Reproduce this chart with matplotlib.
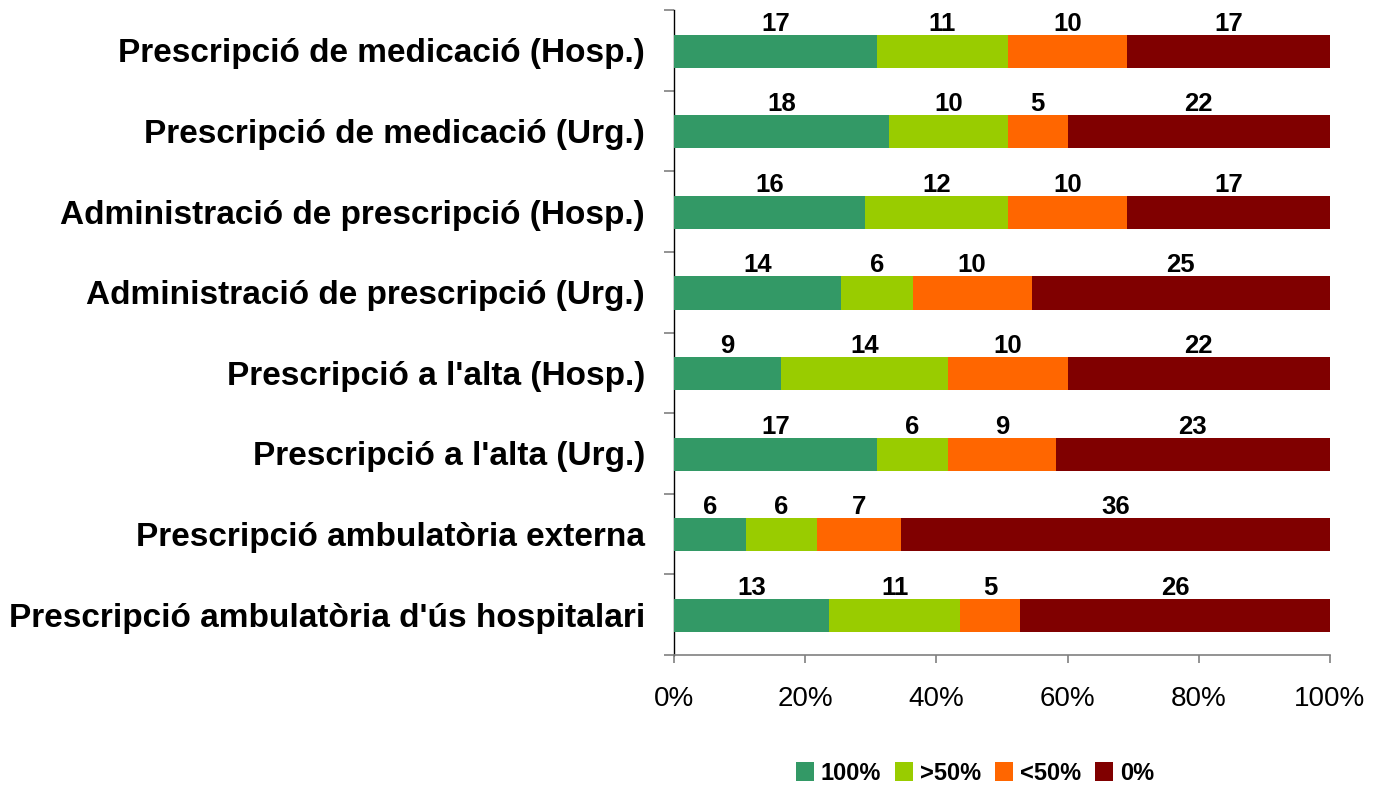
import matplotlib
matplotlib.use("Agg")
import matplotlib.pyplot as plt
import numpy as np
from matplotlib.ticker import FixedLocator

categories = [
    "Prescripció de medicació (Hosp.)",
    "Prescripció de medicació (Urg.)",
    "Administració de prescripció (Hosp.)",
    "Administració de prescripció (Urg.)",
    "Prescripció a l'alta (Hosp.)",
    "Prescripció a l'alta (Urg.)",
    "Prescripció ambulatòria externa",
    "Prescripció ambulatòria d'ús hospitalari",
]
series_names = ["100%", ">50%", "<50%", "0%"]
s_100 = [17, 18, 16, 14, 9, 17, 6, 13]
s_gt50 = [11, 10, 12, 6, 14, 6, 6, 11]
s_lt50 = [10, 5, 10, 10, 10, 9, 7, 5]
s_0 = [17, 22, 17, 25, 22, 23, 36, 26]
colors = ["#339966", "#99CC00", "#FF6600", "#800000"]
x_ticklabels = ["0%", "20%", "40%", "60%", "80%", "100%"]

plt.rcParams['font.family'] = ['Liberation Sans', 'DejaVu Sans']

fig = plt.figure(figsize=(13.73, 7.88), dpi=100)
ax = fig.add_axes([674/1373, 1-655/788, (1330-674)/1373, (655-10)/788])

data = np.array([s_100, s_gt50, s_lt50, s_0], dtype=float)
totals = data.sum(axis=0)
frac = data / totals

n = len(categories)
y = np.arange(n)[::-1]  # first category at top
left = np.zeros(n)
bar_h = 0.41
yc = y - 0.01
for i, name in enumerate(series_names):
    ax.barh(yc, frac[i], left=left, height=bar_h, color=colors[i], label=name, zorder=3)
    for j in range(n):
        cx = left[j] + frac[i][j] / 2
        ax.text(cx, yc[j] + bar_h/2 + 0.05, f"{int(data[i][j])}", ha='center', va='baseline',
                fontsize=18.5, fontweight='bold', color='black', zorder=4)
    left = left + frac[i]

ax.set_xlim(0, 1)
ax.set_ylim(-0.5, n - 0.5)
ax.xaxis.set_major_locator(FixedLocator([0, 0.2, 0.4, 0.6, 0.8, 1.0]))
ax.set_xticklabels(x_ticklabels, fontsize=20)
ax.set_yticks(y)
ax.set_yticklabels(categories, fontsize=24, fontweight='bold')
ax.yaxis.set_minor_locator(FixedLocator(np.arange(-0.5, n, 1.0)))
ax.tick_params(axis='y', which='major', length=0, pad=21)
ax.tick_params(axis='y', which='minor', length=7, color='#808080', width=1.2)
ax.tick_params(axis='x', which='major', length=6, color='#808080', width=1.2, pad=16)

for s in ['top', 'right']:
    ax.spines[s].set_visible(False)
ax.spines['left'].set_color('black')
ax.spines['left'].set_linewidth(1.0)
ax.spines['bottom'].set_color('#808080')
ax.spines['bottom'].set_linewidth(1.2)
ax.patch.set_alpha(0)

leg = fig.legend(loc='center', bbox_to_anchor=(975/1373, 1-773/788), ncol=4, frameon=False,
                 prop={'weight': 'bold', 'size': 17},
                 handlelength=0.75, handleheight=0.9, handletextpad=0.3, columnspacing=0.6,
                 borderpad=0)

fig.savefig("out.png", dpi=100)
